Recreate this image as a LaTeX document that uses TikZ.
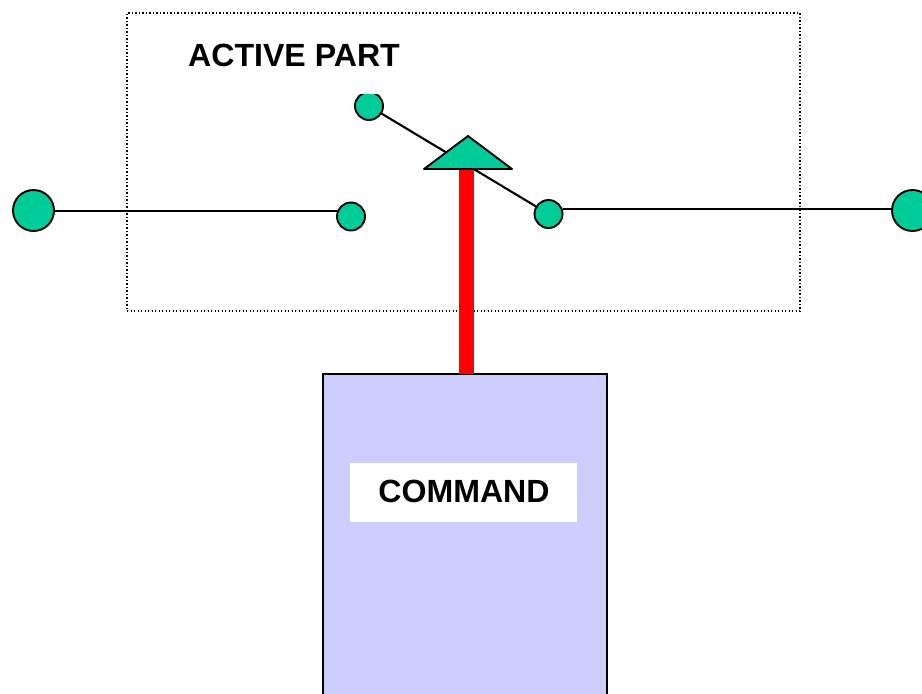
\documentclass[tikz,border=0pt]{standalone}
\usepackage{fontspec}
\setmainfont{Liberation Sans}
\definecolor{term}{RGB}{0,204,153}
\definecolor{cmdfill}{RGB}{204,204,255}
\tikzset{
  term big/.style={circle,draw=black,fill=term,line width=1.9pt,minimum size=41pt,inner sep=0pt,outer sep=0pt},
  term small/.style={circle,draw=black,fill=term,line width=1.9pt,minimum size=28pt,inner sep=0pt,outer sep=0pt},
  wire/.style={draw=black,line width=2.1pt},
  label text/.style={font=\bfseries\fontsize{32.1}{36}\selectfont,text=black,inner sep=0pt},
}
\begin{document}
\begin{tikzpicture}[x=1pt,y=-1pt]
\useasboundingbox (0,0) rectangle (922,694);
\clip (0,0) rectangle (922,694);
% dotted frame
\node[draw=black,line width=1.5pt,dash pattern=on 1.3pt off 2.2pt,minimum width=673pt,minimum height=298pt,inner sep=0pt,outer sep=0pt] (frame) at (463.5,162) {};
\node[label text,anchor=center] (active) at (294,55) {ACTIVE PART};
% command box
\node[draw=black,fill=cmdfill,line width=1.6pt,minimum width=284pt,minimum height=340pt,inner sep=0pt,outer sep=0pt] (command) at (465,544) {};
\node[fill=white,minimum width=227pt,minimum height=59pt,inner sep=0pt] (cmdlabel) at (463.5,492.5) {};
\node[label text] (cmdtext) at (464,491) {COMMAND};
% switch blade behind the terminals
\coordinate (topc) at (369,106);
\coordinate (midc) at (548.5,214);
\draw[wire] (topc) -- (midc);
\begin{scope}
\clip (340,94) rectangle (400,130);
\node[term small] (top) at (topc) {};
\end{scope}
\node[term small] (mid) at (midc) {};
\node[term small] (left) at (351,216.5) {};
\node[term big] (LL) at (33.5,210.5) {};
\node[term big] (RR) at (912.5,210.5) {};
\draw[wire] (LL.east |- 0,211) -- (left.west |- 0,211);
\draw[wire] (mid.east |- 0,209) -- (RR.west |- 0,209);
% plunger
\coordinate (apex) at (468,136);
\coordinate (baseL) at (424,169);
\coordinate (baseR) at (512,169);
\coordinate (baseM) at (466.5,169);
\draw[red,line width=15pt] (baseM) -- (command.north -| baseM);
\draw[fill=term,draw=black,line width=1.9pt,line join=round] (apex) -- (baseR) -- (baseL) -- cycle;
\end{tikzpicture}
\end{document}
